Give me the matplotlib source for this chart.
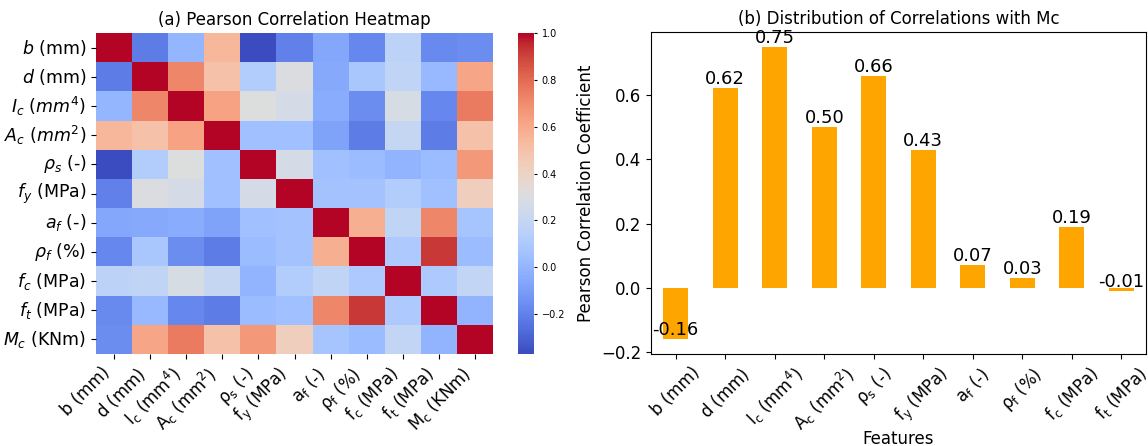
import numpy as np
import matplotlib
matplotlib.use("Agg")
import matplotlib.pyplot as plt
import seaborn as sns

# heatmap labels (rows use italic symbols, columns upright)
row_labels = [r"$b$ (mm)", r"$d$ (mm)", r"$I_c$ ($mm^4$)", r"$A_c$ ($mm^2$)",
              r"$\rho_s$ (-)", r"$f_y$ (MPa)", r"$a_f$ (-)", r"$\rho_f$ (%)",
              r"$f_c$ (MPa)", r"$f_t$ (MPa)", r"$M_c$ (KNm)"]
col_labels = [r"b (mm)", r"$\mathrm{d}$ (mm)", r"$\mathrm{I_c}$ ($\mathrm{mm^4}$)",
              r"$\mathrm{A_c}$ ($\mathrm{mm^2}$)", r"$\mathrm{\rho_s}$ (-)",
              r"$\mathrm{f_y}$ (MPa)", r"$\mathrm{a_f}$ (-)", r"$\mathrm{\rho_f}$ (%)",
              r"$\mathrm{f_c}$ (MPa)", r"$\mathrm{f_t}$ (MPa)", r"$\mathrm{M_c}$ (KNm)"]

corr_values = [
    [1.00, -0.22, 0.00, 0.55, -0.37, -0.20, -0.06, -0.18, 0.16, -0.17, -0.16],
    [-0.22, 1.00, 0.72, 0.50, 0.12, 0.30, -0.05, 0.08, 0.18, 0.02, 0.62],
    [0.00, 0.72, 1.00, 0.63, 0.31, 0.27, -0.04, -0.16, 0.28, -0.18, 0.75],
    [0.55, 0.50, 0.63, 1.00, 0.05, 0.05, -0.08, -0.22, 0.20, -0.22, 0.50],
    [-0.37, 0.12, 0.31, 0.05, 1.00, 0.27, 0.05, 0.03, -0.01, 0.03, 0.66],
    [-0.20, 0.30, 0.27, 0.05, 0.27, 1.00, 0.06, 0.06, 0.12, 0.05, 0.43],
    [-0.06, -0.05, -0.04, -0.08, 0.05, 0.06, 1.00, 0.58, 0.18, 0.72, 0.07],
    [-0.18, 0.08, -0.16, -0.22, 0.03, 0.06, 0.58, 1.00, 0.10, 0.92, 0.03],
    [0.16, 0.18, 0.28, 0.20, -0.01, 0.12, 0.18, 0.10, 1.00, 0.10, 0.19],
    [-0.17, 0.02, -0.18, -0.22, 0.03, 0.05, 0.72, 0.92, 0.10, 1.00, -0.01],
    [-0.16, 0.62, 0.75, 0.50, 0.66, 0.43, 0.07, 0.03, 0.19, -0.01, 1.00],
]

# correlations of each feature with Mc
bar_labels = col_labels[:-1]
mc_corr = [-0.16, 0.62, 0.75, 0.50, 0.66, 0.43, 0.07, 0.03, 0.19, -0.01]

W, H = 1148, 446
fig = plt.figure(figsize=(W / 100, H / 100), dpi=100)

ax1 = fig.add_axes([96 / W, 92 / H, 397 / W, 321 / H])
cax = fig.add_axes([518 / W, 92 / H, 16 / W, 321 / H])
sns.heatmap(np.array(corr_values), cmap="coolwarm", ax=ax1, cbar_ax=cax,
            xticklabels=col_labels, yticklabels=row_labels)
ax1.set_title("(a) Pearson Correlation Heatmap", fontsize=12)
ax1.set_xticklabels(col_labels, rotation=45, ha="right", fontsize=12)
ax1.set_yticklabels(row_labels, rotation=0, fontsize=12.5)
cax.tick_params(labelsize=7, length=2)

ax2 = fig.add_axes([651 / W, 92 / H, 495 / W, 322 / H])
x = np.arange(len(mc_corr))
ax2.bar(x, mc_corr, width=0.5, color="orange")
for xi, v in zip(x, mc_corr):
    ax2.text(xi, v, f"{v:.2f}", ha="center", va="bottom", fontsize=13)
ax2.set_xlim(-0.5, len(mc_corr) - 0.5)
ax2.set_xticks(x)
ax2.set_xticklabels(bar_labels, rotation=45, fontsize=12)
ax2.tick_params(axis="y", labelsize=12)
ax2.set_title("(b) Distribution of Correlations with Mc", fontsize=12)
ax2.set_xlabel("Features", fontsize=12)
ax2.xaxis.set_label_coords(0.5, -0.235)
ax2.set_ylabel("Pearson Correlation Coefficient", fontsize=12)

fig.savefig("out.png", dpi=100)
